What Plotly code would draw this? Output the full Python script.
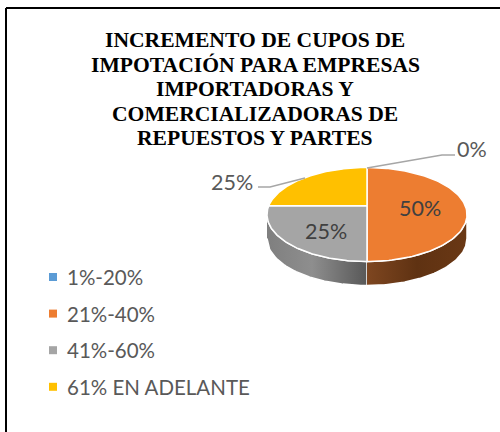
import numpy as np
import plotly.graph_objects as go

categories = ["1%-20%", "21%-40%", "41%-60%", "61% EN ADELANTE"]
values = [0, 50, 25, 25]
colors = ["#5B9BD5", "#ED7D31", "#A5A5A5", "#FFC000"]
title_lines = ["INCREMENTO DE CUPOS DE", "IMPOTACIÓN PARA EMPRESAS", "IMPORTADORAS Y",
               "COMERCIALIZADORAS DE", "REPUESTOS Y PARTES"]

# Pie geometry (pixels: the axes span the page 1:1)
CX, CY, RX, RY = 367, 214.5, 100, 47
AX, AY = 367, 205.7
DEPTH = 24
LEGEND_X, LEGEND_TEXT_X, LEGEND_Y0, LEGEND_STEP = 53, 66, 277, 36.6
TITLE_X, TITLE_Y0, TITLE_STEP = 255, 40, 24.5


def rim(theta):
    """Point on the tilted rim for a clockwise angle from the top, seen from the apex."""
    dx, dy = np.sin(theta) * RX, -np.cos(theta) * RY
    ox, oy = AX - CX, AY - CY
    a = (dx / RX) ** 2 + (dy / RY) ** 2
    b = 2 * (ox * dx / RX ** 2 + oy * dy / RY ** 2)
    c = (ox / RX) ** 2 + (oy / RY) ** 2 - 1
    t = (-b + np.sqrt(b * b - 4 * a * c)) / (2 * a)
    return AX + t * dx, AY + t * dy


fig = go.Figure()

# Walls (front half of the rim pushed down), split where the slices meet the front
side_scales = {
    "21%-40%": [[0, "#7E4620"], [0.5, "#5F3212"], [1, "#6A3815"]],
    "41%-60%": [[0, "#7F7F7F"], [0.45, "#8E8E8E"], [1, "#585858"]],
}
for name, x0, x1 in [("41%-60%", CX - RX, CX), ("21%-40%", CX, CX + RX)]:
    xs = np.linspace(x0, x1, 80)
    ys = CY + RY * np.sqrt(np.clip(1 - ((xs - CX) / RX) ** 2, 0, 1))
    px = np.concatenate([xs, xs[::-1]])
    py = np.concatenate([ys + DEPTH, ys[::-1]])
    fig.add_trace(go.Scatter(
        x=px, y=py, mode="lines", fill="toself", showlegend=False, hoverinfo="skip",
        line=dict(color="white", width=1.5),
        fillgradient=dict(type="horizontal", colorscale=side_scales[name], start=x0, stop=x1)))

# Top face
total = sum(values)
start = 0.0
for name, val, col in zip(categories, values, colors):
    sweep = 2 * np.pi * val / total
    if val > 0:
        th = np.linspace(start, start + sweep, 120)
        pts = [rim(t) for t in th]
        fig.add_trace(go.Scatter(
            x=[AX] + [p[0] for p in pts] + [AX], y=[AY] + [p[1] for p in pts] + [AY],
            mode="lines", fill="toself", fillcolor=col, showlegend=False, name=name,
            line=dict(color="white", width=1.5), hoverinfo="skip"))
    start += sweep

# Leader lines
for lx, ly in [([367, 442, 455], [168, 155, 155]), ([305, 270, 258], [178, 187, 187])]:
    fig.add_trace(go.Scatter(x=lx, y=ly, mode="lines", showlegend=False, hoverinfo="skip",
                             line=dict(color="#A6A6A6", width=1.5)))

# Data labels
labels = [(472, 149, values[0], "#595959"), (420, 208, values[1], "#404040"),
          (326, 231, values[2], "#404040"), (232, 182, values[3], "#595959")]
annotations = [dict(x=x, y=y, text=f"{v}%", showarrow=False, xanchor="center", yanchor="middle",
                    font=dict(family="Lato", size=21.5, color=c)) for x, y, v, c in labels]

# Title, one line per annotation for the tight line spacing of the original
for i, line in enumerate(title_lines):
    annotations.append(dict(x=TITLE_X, y=TITLE_Y0 + i * TITLE_STEP, text=f"<b>{line}</b>",
                            showarrow=False, xanchor="center", yanchor="middle",
                            font=dict(family="Liberation Serif", size=21.6, color="black")))

# Legend
for i, (name, col) in enumerate(zip(categories, colors)):
    y = LEGEND_Y0 + i * LEGEND_STEP
    fig.add_trace(go.Scatter(x=[LEGEND_X], y=[y], mode="markers", name=name, showlegend=False,
                             hoverinfo="skip", marker=dict(symbol="square", size=8, color=col)))
    annotations.append(dict(x=LEGEND_TEXT_X, y=y, text=name, showarrow=False, xanchor="left",
                            yanchor="middle", xshift=-1,
                            font=dict(family="Lato", size=20.5, color="#595959")))

fig.update_layout(
    width=500, height=432, margin=dict(l=0, r=0, t=0, b=0),
    paper_bgcolor="white", plot_bgcolor="white", showlegend=False,
    xaxis=dict(range=[0, 500], visible=False, fixedrange=True),
    yaxis=dict(range=[432, 0], visible=False, fixedrange=True),
    annotations=annotations,
    shapes=[dict(type="line", xref="x", yref="y", x0=6, x1=6, y0=8, y1=432,
                 line=dict(color="black", width=2)),
            dict(type="line", xref="x", yref="y", x0=6, x1=500, y0=8, y1=8,
                 line=dict(color="black", width=2))],
)
fig.write_html("out.html", config=dict(displayModeBar=False),
               post_script="document.body.style.margin='0';document.body.style.overflow='hidden';")
